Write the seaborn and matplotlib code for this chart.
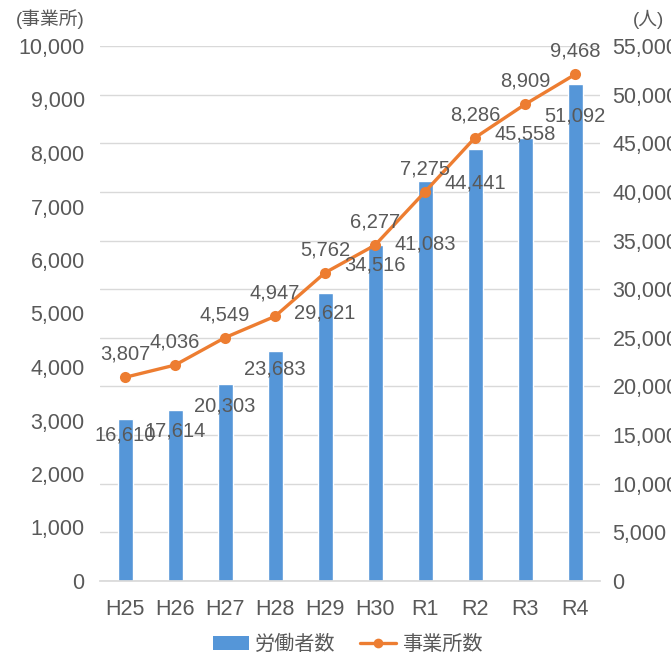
import numpy as np
import pandas as pd
import matplotlib
matplotlib.use("Agg")
import matplotlib.pyplot as plt
from matplotlib.patches import Patch
from matplotlib.lines import Line2D
import seaborn as sns

# ---- data ----
years = ["H25", "H26", "H27", "H28", "H29", "H30", "R1", "R2", "R3", "R4"]
workers = [16610, 17614, 20303, 23683, 29621, 34516, 41083, 44441, 45558, 51092]
offices = [3807, 4036, 4549, 4947, 5762, 6277, 7275, 8286, 8909, 9468]
series_names = ["労働者数", "事業所数"]
left_unit = "(事業所)"
right_unit = "(人)"

# ---- style ----
bar_color = "#5596D8"
line_color = "#ED7D31"
text_color = "#595959"
grid_color = "#D9D9D9"
fs = 14.5
tick_fs = 15.5
# per-label vertical offsets in pixels (label centre below bar top)
bar_label_dy = [16, 21, 22, 18, 20, 20, 63, 34, -4, 32]
line_label_dy = 23

sns.set_theme(style="white")
plt.rcParams["font.family"] = ["Liberation Sans", "Noto Sans CJK JP", "DejaVu Sans"]

W, H = 671, 654
fig = plt.figure(figsize=(W / 100, H / 100), dpi=100)
ax = fig.add_axes([100 / W, 1 - 581 / H, 500 / W, (581 - 46) / H])

df = pd.DataFrame({"year": years, "workers": workers, "offices": offices})

# bars on primary axes (right-side scale)
sns.barplot(data=df, x="year", y="workers", ax=ax, color=bar_color,
            width=0.3, saturation=1, zorder=2)
ax.set_ylim(0, 55000)
ax.set_yticks(np.arange(0, 55001, 5000))
ax.set_yticklabels([f"{int(t):,}" for t in np.arange(0, 55001, 5000)])
ax.set_axisbelow(True)
ax.grid(axis="y", color=grid_color, lw=1)
ax.grid(axis="x", visible=False)
ax.set_xlim(-0.5, len(years) - 0.5)

# line on twin axes (left-side scale)
ax2 = ax.twinx()
sns.lineplot(x=np.arange(len(years)), y=offices, ax=ax2, color=line_color,
             lw=2.4, marker="o", markersize=8, markeredgewidth=0, zorder=3)
ax2.set_ylim(0, 10000)
ax2.set_yticks(np.arange(0, 10001, 1000))
ax2.set_yticklabels([f"{int(t):,}" for t in np.arange(0, 10001, 1000)])
ax2.grid(False)
ax2.set_xlim(-0.5, len(years) - 0.5)

ax.yaxis.tick_right()
ax.yaxis.set_label_position("right")
ax2.yaxis.tick_left()
ax.tick_params(axis="y", labelleft=False, labelright=True)
ax2.tick_params(axis="y", labelleft=True, labelright=False)

for a in (ax, ax2):
    for s in a.spines.values():
        s.set_visible(False)
    a.set_xlabel("")
    a.set_ylabel("")
    a.tick_params(axis="both", length=0, labelsize=tick_fs, colors=text_color)
ax.spines["bottom"].set_visible(True)
ax.spines["bottom"].set_color(grid_color)
ax.tick_params(axis="y", pad=9)
ax2.tick_params(axis="y", pad=11)
ax.tick_params(axis="x", pad=13)
ax2.tick_params(axis="x", labelbottom=False)

px = 0.72  # points per pixel
for i, v in enumerate(workers):
    ax2.annotate(f"{v:,}", xy=(i, v * 10000 / 55000), xytext=(0, -bar_label_dy[i] * px),
                 textcoords="offset points", ha="center", va="center",
                 fontsize=fs, color=text_color, zorder=5)
for i, v in enumerate(offices):
    ax2.annotate(f"{v:,}", xy=(i, v), xytext=(0, line_label_dy * px),
                 textcoords="offset points", ha="center", va="center",
                 fontsize=fs, color=text_color, zorder=5)

fig.text(50 / W, 1 - 19 / H, left_unit, ha="center", va="center",
         fontsize=13.5, color=text_color)
fig.text(649 / W, 1 - 19 / H, right_unit, ha="center", va="center",
         fontsize=13.5, color=text_color)

handles = [Patch(facecolor=bar_color, edgecolor="none"),
           Line2D([0], [0], color=line_color, lw=2.4, marker="o", markersize=7,
                  markeredgewidth=0)]
leg = fig.legend(handles, series_names, loc="center", bbox_to_anchor=(348 / W, 1 - 644 / H),
                 ncol=2, frameon=False, fontsize=fs, handlelength=1.8,
                 handletextpad=0.3, columnspacing=1.2)
for t in leg.get_texts():
    t.set_color(text_color)

fig.savefig("out.png", dpi=100)
